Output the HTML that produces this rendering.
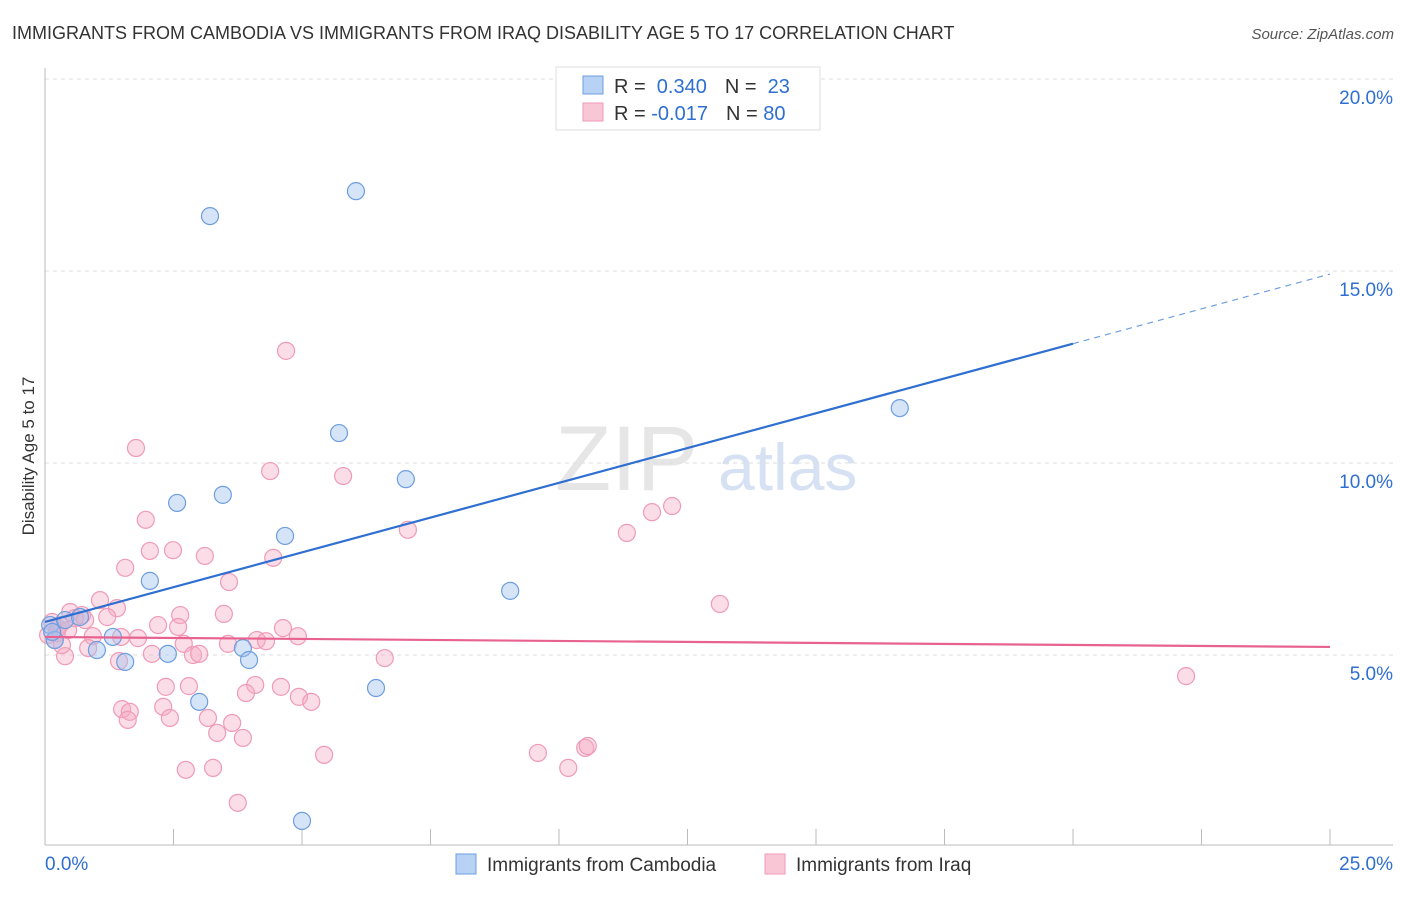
<!DOCTYPE html>
<html><head><meta charset="utf-8"><style>
body{margin:0;background:#fff;font-family:"Liberation Sans",sans-serif;}
svg text{font-family:"Liberation Sans",sans-serif;}
</style></head><body>
<svg id="chart" width="1406" height="892" xmlns="http://www.w3.org/2000/svg">
<text x="12" y="39" font-size="18" fill="#333">IMMIGRANTS FROM CAMBODIA VS IMMIGRANTS FROM IRAQ DISABILITY AGE 5 TO 17 CORRELATION CHART</text>
<text x="1394" y="39" font-size="15" fill="#555" text-anchor="end" font-style="italic">Source: ZipAtlas.com</text>
<text x="555" y="490" font-size="92" fill="#e6e6e6" font-family="Liberation Serif">ZIP</text>
<text x="718" y="490" font-size="66" fill="#d6e2f3">atlas</text>
<g id="grid"></g><g id="axes"></g><g id="pts"></g><g id="lines"></g>
<text transform="translate(34,456) rotate(-90)" font-size="17" fill="#333" text-anchor="middle">Disability Age 5 to 17</text>
<g>
<rect x="556" y="67" width="264" height="63" fill="#fff" stroke="#ddd"/>
<rect x="583" y="76" width="20" height="18" fill="#b7d2f5" stroke="#6d9ee0"/>
<rect x="583" y="103" width="20" height="18" fill="#f9c6d6" stroke="#ef9bb7"/>
<text x="614" y="93" font-size="20" fill="#333">R = <tspan fill="#2e6fd1">&#160;0.340</tspan><tspan dx="18">N = </tspan><tspan fill="#2e6fd1">&#160;23</tspan></text>
<text x="614" y="120" font-size="20" fill="#333">R = <tspan fill="#2e6fd1">-0.017</tspan><tspan dx="18">N = </tspan><tspan fill="#2e6fd1">80</tspan></text>
</g>
<g>
<rect x="456" y="854" width="20" height="20" fill="#b7d2f5" stroke="#6d9ee0"/>
<text x="487" y="871" font-size="19" fill="#333">Immigrants from Cambodia</text>
<rect x="765" y="854" width="20" height="20" fill="#f9c6d6" stroke="#ef9bb7"/>
<text x="796" y="871" font-size="19" fill="#333">Immigrants from Iraq</text>
</g>
</svg>
<script>
const blueX=[6.05,3.21,5.72,7.02,3.46,2.57,4.67,2.04,9.05,16.63,1.32,1.01,1.56,2.39,3.85,3.97,3.00,6.44,5.00,0.10,0.19,0.39,0.68,0.14];
const blueY=[17.08,16.43,10.78,9.58,9.17,8.96,8.10,6.93,6.67,11.43,5.47,5.13,4.82,5.03,5.18,4.87,3.78,4.14,0.68,5.78,5.39,5.91,5.99,5.60];
const pinkX=[4.69,1.77,4.38,5.80,1.96,7.06,2.04,2.49,3.11,4.44,1.56,3.58,1.07,1.40,3.48,2.63,0.49,0.72,1.21,0.29,2.20,2.59,4.63,4.92,0.93,1.48,1.81,2.70,3.56,4.12,4.30,0.84,0.39,1.44,2.08,2.88,3.00,6.61,2.35,2.80,4.09,4.59,3.91,2.30,1.50,1.65,1.61,2.43,3.17,3.64,3.35,3.85,4.94,5.18,5.43,2.74,3.27,3.75,9.59,10.18,10.51,10.56,11.32,11.81,12.20,13.13,22.20,0.06,0.19,0.25,0.33,0.58,0.14,0.23,0.45,0.78];
const pinkY=[12.92,10.39,9.79,9.66,8.52,8.26,7.71,7.73,7.58,7.53,7.27,6.90,6.43,6.22,6.07,6.04,6.12,6.04,5.99,5.78,5.78,5.73,5.70,5.49,5.49,5.47,5.44,5.29,5.29,5.39,5.36,5.18,4.97,4.84,5.03,5.00,5.03,4.92,4.17,4.19,4.22,4.17,4.01,3.65,3.59,3.52,3.31,3.36,3.36,3.23,2.97,2.84,3.91,3.78,2.40,2.01,2.06,1.15,2.45,2.06,2.58,2.63,8.18,8.72,8.88,6.33,4.45,5.52,5.39,5.70,5.26,5.96,5.86,5.57,5.65,5.91];
const yTicks=[5,10,15,20];
const yTickLabels=["5.0%","10.0%","15.0%","20.0%"];
const xTicks=[0,2.5,5,7.5,10,12.5,15,17.5,20,22.5,25];
const blueTrend=[5.86,14.92];
const pinkTrend=[5.47,5.21];
const NS="http://www.w3.org/2000/svg";
const sx=v=>45+v*51.4, sy=v=>847-v*38.4;
function mk(tag,attrs,parent){const e=document.createElementNS(NS,tag);for(const k in attrs)e.setAttribute(k,attrs[k]);document.getElementById(parent).appendChild(e);return e;}
yTicks.forEach((t,i)=>{
 const g=mk('line',{x1:45,x2:1393,y1:sy(t),y2:sy(t),stroke:'#ddd','stroke-dasharray':'4,4'},'grid');
 
 
 const tx=mk('text',{x:1393,y:sy(t)+25,'font-size':19,fill:'#2e6fd1','text-anchor':'end'},'axes');
 tx.textContent=yTickLabels[i];
 
 
});
const ya=mk('line',{x1:45,x2:45,y1:68,y2:845,stroke:'#bbb'},'axes');


const xa=mk('line',{x1:45,x2:1393,y1:845,y2:845,stroke:'#bbb'},'axes');


xTicks.forEach(t=>{
 const l=mk('line',{x1:sx(t),x2:sx(t),y1:829,y2:845,stroke:'#bbb'},'axes');
 
 
});
const xl0=mk('text',{x:45,y:870,'font-size':19,fill:'#2e6fd1'},'axes');xl0.textContent='0.0%';


const xl1=mk('text',{x:1393,y:870,'font-size':19,fill:'#2e6fd1','text-anchor':'end'},'axes');xl1.textContent='25.0%';


pinkX.forEach((x,i)=>{
 const c=mk('circle',{cx:sx(x),cy:sy(pinkY[i]),r:8.5,fill:'rgba(244,170,195,0.4)',stroke:'#ef9bb7','stroke-width':1.2},'pts');
 
 
});
blueX.forEach((x,i)=>{
 const c=mk('circle',{cx:sx(x),cy:sy(blueY[i]),r:8.5,fill:'rgba(164,196,240,0.45)',stroke:'#6d9ee0','stroke-width':1.2},'pts');
 
 
});
const bAt=x=>blueTrend[0]+(blueTrend[1]-blueTrend[0])*x/25;
const bl=mk('line',{x1:sx(0),y1:sy(bAt(0)),x2:sx(20),y2:sy(bAt(20)),stroke:'#2e6fd1','stroke-width':2.2},'lines');


const bd=mk('line',{x1:sx(20),y1:sy(bAt(20)),x2:sx(25),y2:sy(bAt(25)),stroke:'#6d9ee0','stroke-width':1.2,'stroke-dasharray':'6,5'},'lines');


const pl=mk('line',{x1:sx(0),y1:sy(pinkTrend[0]),x2:sx(25),y2:sy(pinkTrend[1]),stroke:'#e8628f','stroke-width':2.2},'lines');


</script>
</body></html>
